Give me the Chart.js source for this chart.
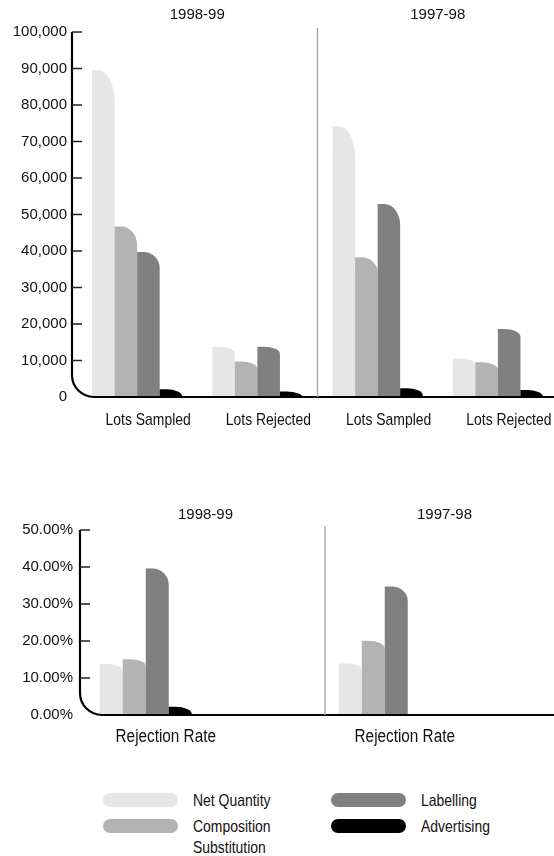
<!DOCTYPE html>
<html>
<head>
<meta charset="utf-8">
<script src="https://cdn.jsdelivr.net/npm/chart.js@4.4.0/dist/chart.umd.min.js"></script>
<style>
html, body { margin: 0; padding: 0; background: #fff; overflow: hidden; }
#wrap { position: relative; width: 554px; height: 856px; overflow: hidden; }
#topChart { position: absolute; left: 0; top: 0; }
#rateChart { position: absolute; left: 0; top: 490px; }
#legend {
    position: absolute; left: 103px; top: 790px;
    display: grid; grid-auto-flow: column;
    grid-template-columns: 228px auto; grid-template-rows: 26px auto;
    font-family: "Liberation Sans", Arial, sans-serif;
    font-size: 17px; color: #111;
}
.item { display: flex; align-items: flex-start; }
.swatch { width: 75px; height: 14px; border-radius: 7px; margin: 3px 15px 0 0; flex: none; }
.label { line-height: 21px; width: 110px; transform: scaleX(0.82); transform-origin: left top; }
</style>
</head>
<body>
<div id="wrap">
    <canvas id="topChart" width="580" height="440"></canvas>
    <canvas id="rateChart" width="590" height="260"></canvas>
    <div id="legend"></div>
</div>
<script>
// periods shown above each half
var periods = ['1998-99', '1997-98'];

// lots chart
var lotCategories = ['Lots Sampled', 'Lots Rejected', 'Lots Sampled', 'Lots Rejected'];
var lotNetQuantity = [89500, 13800, 74200, 10600];
var lotComposition = [46700, 9700, 38300, 9500];
var lotLabelling = [39700, 13800, 52900, 18600];
var lotAdvertising = [2100, 1500, 2400, 1900];
var lotTicks = [0, 10000, 20000, 30000, 40000, 50000, 60000, 70000, 80000, 90000, 100000];

// rejection rate chart (empty slot after each period)
var rateCategories = ['Rejection Rate', '', 'Rejection Rate', ''];
var rateNetQuantity = [13.8, null, 14.0, null];
var rateComposition = [15.1, null, 20.1, null];
var rateLabelling = [39.6, null, 34.7, null];
var rateAdvertising = [2.2, null, 0, null];
var rateTicks = [0, 10, 20, 30, 40, 50];

var seriesNames = ['Net Quantity', 'Composition Substitution', 'Labelling', 'Advertising'];
var seriesColors = ['#e6e6e6', '#b3b3b3', '#808080', '#000000'];

var regular = '"Liberation Sans", Arial, sans-serif';

// bars with a rounded top-right "tab" corner
var tabBars = {
    id: 'tabBars',
    beforeDatasetsDraw: function (chart) {
        var ctx = chart.ctx;
        chart.data.datasets.forEach(function (ds, i) {
            var meta = chart.getDatasetMeta(i);
            meta.data.forEach(function (bar, j) {
                if (ds.data[j] == null) return;
                var p = bar.getProps(['x', 'y', 'base', 'width'], true);
                var h = p.base - p.y;
                if (!(h > 0)) return;
                var l = p.x - p.width / 2, r = p.x + p.width / 2;
                var ry = Math.min(h, Math.max(7, Math.min(32, h * 0.11)));
                var rx = p.width * 0.7;
                ctx.save();
                ctx.fillStyle = ds.backgroundColor;
                ctx.beginPath();
                ctx.moveTo(l, p.base);
                ctx.lineTo(l, p.y);
                ctx.lineTo(r - rx, p.y);
                ctx.ellipse(r - rx, p.y + ry, rx, ry, 0, -Math.PI / 2, 0);
                ctx.lineTo(r, p.base);
                ctx.closePath();
                ctx.fill();
                ctx.restore();
            });
        });
        return false;
    }
};

// axis frame with rounded corner, inner ticks, period divider, titles, category labels
var frame = {
    id: 'frame',
    afterDraw: function (chart, args, opts) {
        var ctx = chart.ctx, a = chart.chartArea;
        var x = chart.scales.x, y = chart.scales.y;
        var rad = 22;
        var ax = a.left - opts.axisShift;
        ctx.save();
        ctx.strokeStyle = '#000';
        ctx.lineWidth = 2.2;
        ctx.beginPath();
        ctx.moveTo(ax, a.top);
        ctx.lineTo(ax, a.bottom - rad);
        ctx.arcTo(ax, a.bottom, ax + rad, a.bottom, rad);
        ctx.lineTo(chart.width, a.bottom);
        ctx.stroke();

        ctx.lineWidth = 1.3;
        ctx.strokeStyle = '#222';
        ctx.beginPath();
        y.ticks.forEach(function (t) {
            var py = y.getPixelForValue(t.value);
            if (py > a.bottom - rad) return;
            ctx.moveTo(ax, py);
            ctx.lineTo(ax + 10, py);
        });
        ctx.stroke();

        var sx = x.getPixelForValue(1.5);
        ctx.strokeStyle = '#a8a8a8';
        ctx.lineWidth = 1.4;
        ctx.beginPath();
        ctx.moveTo(sx, a.top - 4);
        ctx.lineTo(sx, a.bottom);
        ctx.stroke();

        ctx.fillStyle = '#111';
        ctx.font = '15px ' + regular;
        ctx.textAlign = 'center';
        ctx.textBaseline = 'middle';
        ctx.fillText(periods[0], (a.left + sx) / 2, opts.titleY);
        ctx.fillText(periods[1], (sx + a.right) / 2, opts.titleY);

        // condensed category labels
        ctx.font = opts.labelSize + 'px ' + regular;
        chart.data.labels.forEach(function (lab, i) {
            if (!lab) return;
            ctx.save();
            ctx.translate(x.getPixelForValue(i) + opts.labelOffset, opts.labelY);
            ctx.scale(opts.labelScale, 1);
            ctx.fillText(lab, 0, 0);
            ctx.restore();
        });
        ctx.restore();
    }
};

function makeDatasets(values, catPct) {
    return values.map(function (v, i) {
        return {
            label: seriesNames[i],
            data: v,
            backgroundColor: seriesColors[i],
            barPercentage: 1,
            categoryPercentage: catPct
        };
    });
}

function makeOptions(cfg) {
    return {
        responsive: false,
        animation: false,
        layout: { padding: { top: cfg.padTop, right: cfg.padRight, left: 0, bottom: 0 } },
        plugins: {
            legend: { display: false },
            tooltip: { enabled: false },
            frame: {
                titleY: cfg.titleY, labelY: cfg.labelY, labelOffset: cfg.labelOffset,
                labelSize: cfg.labelSize, labelScale: cfg.labelScale, axisShift: cfg.axisShift
            }
        },
        scales: {
            x: {
                grid: { display: false, drawTicks: false },
                border: { display: false },
                ticks: { display: false },
                afterFit: function (s) { s.height = cfg.xHeight; }
            },
            y: {
                min: cfg.ticks[0], max: cfg.ticks[cfg.ticks.length - 1],
                afterBuildTicks: function (s) {
                    s.ticks = cfg.ticks.map(function (v) { return { value: v }; });
                },
                grid: { display: false, drawTicks: false },
                border: { display: false },
                ticks: {
                    padding: cfg.tickPad, color: '#111',
                    font: { family: regular, size: 15 },
                    callback: cfg.format
                },
                afterFit: function (s) { s.width = cfg.yWidth; }
            }
        }
    };
}

window.onload = function () {
    new Chart(document.getElementById('topChart'), {
        type: 'bar',
        data: {
            labels: lotCategories,
            datasets: makeDatasets([lotNetQuantity, lotComposition, lotLabelling, lotAdvertising], 0.75)
        },
        options: makeOptions({
            padTop: 32, padRight: 22, titleY: 15, labelY: 420, labelOffset: 11,
            labelSize: 17, labelScale: 0.82, axisShift: 5,
            xHeight: 43, yWidth: 77, tickPad: 10, ticks: lotTicks,
            format: function (v) { return v.toLocaleString('en-US'); }
        }),
        plugins: [tabBars, frame]
    });

    new Chart(document.getElementById('rateChart'), {
        type: 'bar',
        data: {
            labels: rateCategories,
            datasets: makeDatasets([rateNetQuantity, rateComposition, rateLabelling, rateAdvertising], 0.77)
        },
        options: makeOptions({
            padTop: 40, padRight: 26, titleY: 25, labelY: 247, labelOffset: 20,
            labelSize: 18, labelScale: 0.85, axisShift: 6,
            xHeight: 35, yWidth: 86, tickPad: 13, ticks: rateTicks,
            format: function (v) { return v.toFixed(2) + '%'; }
        }),
        plugins: [tabBars, frame]
    });

    var legend = document.getElementById('legend');
    seriesNames.forEach(function (name, i) {
        var item = document.createElement('div');
        item.className = 'item';
        var sw = document.createElement('span');
        sw.className = 'swatch';
        sw.style.background = seriesColors[i];
        var tx = document.createElement('span');
        tx.className = 'label';
        tx.textContent = name;
        item.appendChild(sw);
        item.appendChild(tx);
        legend.appendChild(item);
    });
};
</script>
</body>
</html>
